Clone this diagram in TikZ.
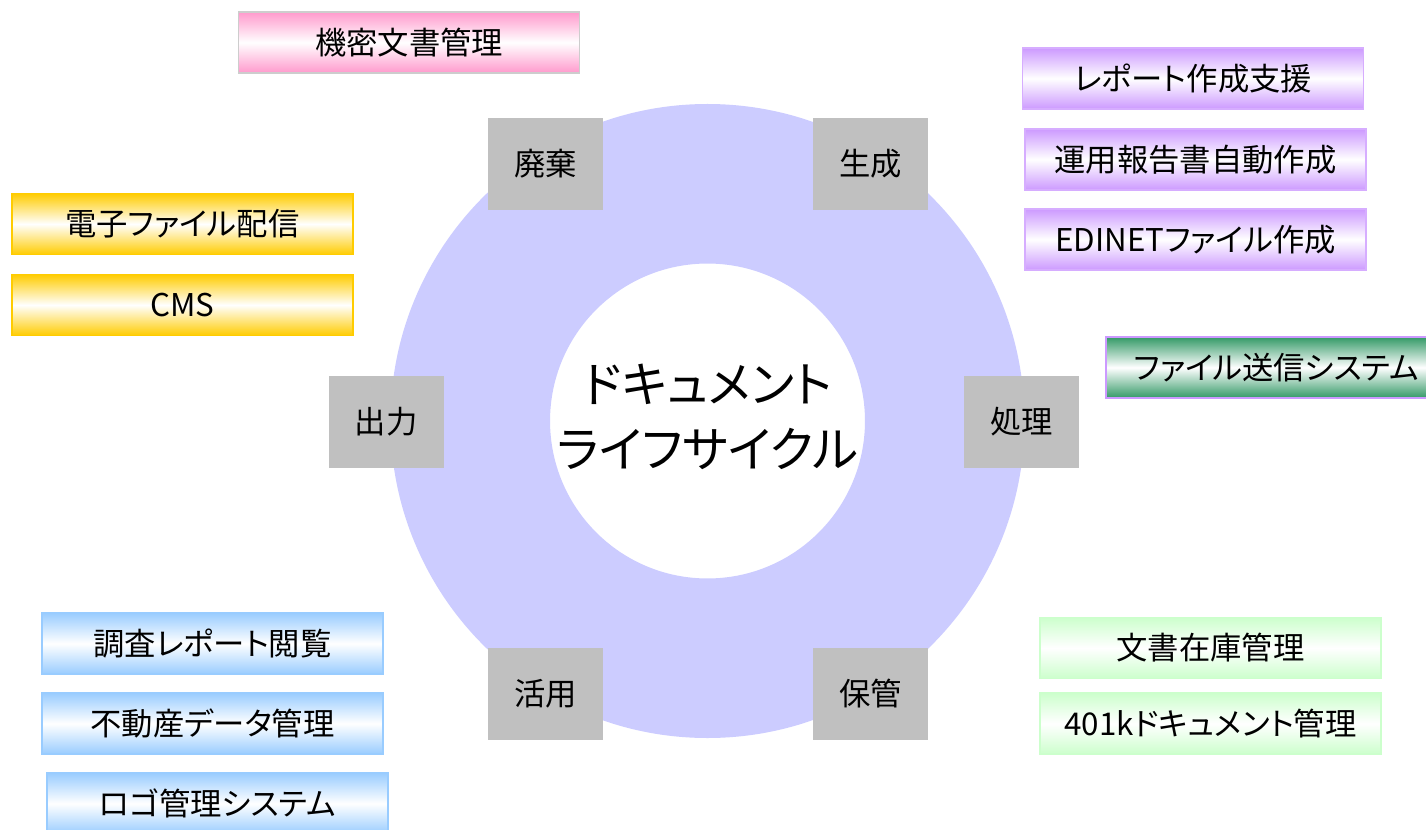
\documentclass[tikz,border=0pt]{standalone}
\usepackage{fontspec}
\setmainfont{Noto Sans CJK JP}[RawFeature=+palt]
\definecolor{ringc}{HTML}{CCCCFF}
\definecolor{grayc}{HTML}{C0C0C0}
\definecolor{pinkc}{HTML}{FF99CC}
\definecolor{purpc}{HTML}{CC99FF}
\definecolor{goldc}{HTML}{FFCC00}
\definecolor{dgreenc}{HTML}{339966}
\definecolor{bluec}{HTML}{99CCFF}
\definecolor{lgreenc}{HTML}{CCFFCC}
\tikzset{
  lbl/.style={font=\fontsize{23.5}{28}\selectfont, text=black, inner sep=0pt},
  band/.style={lbl, minimum width=256pt, minimum height=46pt, line width=1.1pt},
  pinkbox/.style={band, draw=grayc!80!white, top color=pinkc, bottom color=pinkc, middle color=white},
  purpbox/.style={band, draw=purpc!80!white, top color=purpc, bottom color=purpc, middle color=white},
  goldbox/.style={band, draw=goldc, top color=goldc, bottom color=goldc, middle color=white},
  greenbox/.style={band, draw=purpc, top color=dgreenc, bottom color=dgreenc, middle color=white},
  bluebox/.style={band, draw=bluec, top color=bluec, bottom color=bluec, middle color=white},
  lgreenbox/.style={band, draw=lgreenc, top color=lgreenc, bottom color=lgreenc, middle color=white},
  stage/.style={lbl, fill=grayc, minimum width=86.25pt, minimum height=69pt}
}
\begin{document}
\begin{tikzpicture}[x=0.75pt,y=-0.75pt]
\useasboundingbox (0,0) rectangle (1426,830);
\fill[white] (0,0) rectangle (1426,830);
% ring
\fill[ringc, even odd rule] (707.5,421) circle[radius=237.75pt] (707.5,421) circle[radius=118.1pt];
% center text
\node[align=center, inner sep=0pt, font=\fontsize{36.5}{48.75}\selectfont] (title) at (707.5,417) {ドキュメント\\ライフサイクル};
% stages
\node[stage] (haiki) at (545.5,164) {廃棄};
\node[stage] (seisei) at (870.5,164) {生成};
\node[stage] (shutsu) at (386,421.5) {出力};
\node[stage] (shori) at (1021.5,421.5) {処理};
\node[stage] (katsu) at (545.5,693.5) {活用};
\node[stage] (hokan) at (870.5,693.5) {保管};
% boxes
\node[pinkbox] (kimitsu) at (409,42.5) {機密文書管理};
\node[purpbox] (report) at (1193,78.5) {レポート作成支援};
\node[purpbox] (unyo) at (1195.5,159.5) {運用報告書自動作成};
\node[purpbox] (edinet) at (1195.5,239.5) {EDINETファイル作成};
\node[greenbox] (soshin) at (1276.5,367.5) {ファイル送信システム};
\node[goldbox] (denshi) at (182.5,224) {電子ファイル配信};
\node[goldbox] (cms) at (182.5,305) {CMS};
\node[bluebox] (chosa) at (212.5,643.5) {調査レポート閲覧};
\node[bluebox] (fudosan) at (212.5,723.5) {不動産データ管理};
\node[bluebox] (logo) at (217.5,803.5) {ロゴ管理システム};
\node[lgreenbox] (zaiko) at (1210.5,648) {文書在庫管理};
\node[lgreenbox] (k401) at (1210.5,723.5) {401kドキュメント管理};
\end{tikzpicture}
\end{document}
